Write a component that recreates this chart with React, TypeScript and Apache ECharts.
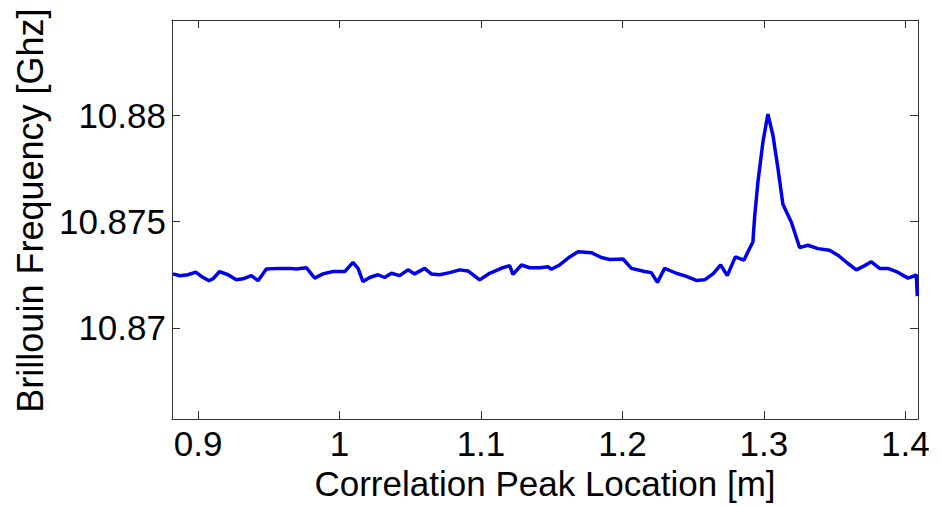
import React, { useEffect, useRef } from "react";
import * as echarts from "echarts";

// Correlation peak location [m]
const xValues = [
  0.8823, 0.8871, 0.8929, 0.8984, 0.9024, 0.9078, 0.9106, 0.9153, 0.9212, 0.9271,
  0.9318, 0.9377, 0.9424, 0.9483, 0.9577, 0.9648, 0.9695, 0.9766, 0.9825, 0.9883,
  0.9954, 1.0037, 1.0095, 1.0131, 1.0166, 1.0213, 1.0272, 1.0319, 1.0367, 1.0425,
  1.0484, 1.0531, 1.0602, 1.0649, 1.0708, 1.0779, 1.0849, 1.0908, 1.0991, 1.1061,
  1.1155, 1.1203, 1.1226, 1.1286, 1.1344, 1.1415, 1.1473, 1.1497, 1.1556, 1.1627,
  1.1686, 1.178, 1.1851, 1.191, 1.2004, 1.2063, 1.2157, 1.2204, 1.2247, 1.2298,
  1.2381, 1.2452, 1.2522, 1.2581, 1.264, 1.2694, 1.2741, 1.2798, 1.2859, 1.2887,
  1.2922, 1.2934, 1.2958, 1.2993, 1.3028, 1.3064, 1.3099, 1.3134, 1.3194, 1.3252,
  1.3311, 1.3382, 1.3464, 1.3523, 1.3594, 1.3653, 1.3712, 1.3759, 1.3818, 1.3876,
  1.3936, 1.4018, 1.4053, 1.4077, 1.4084,
];

// Brillouin frequency [GHz]
const yValues = [
  10.87254, 10.87245, 10.8725, 10.87262, 10.87242, 10.87222, 10.87231, 10.87265, 10.8725, 10.87226,
  10.87231, 10.87246, 10.87222, 10.87277, 10.8728, 10.8728, 10.87277, 10.87283, 10.87234, 10.87254,
  10.87265, 10.87265, 10.87308, 10.8728, 10.87218, 10.87237, 10.8725, 10.87237, 10.87257, 10.87246,
  10.87273, 10.87254, 10.8728, 10.87254, 10.8725, 10.8726, 10.87273, 10.87268, 10.87226, 10.87257,
  10.87283, 10.87293, 10.87252, 10.87296, 10.87283, 10.87283, 10.87288, 10.87276, 10.87296, 10.87334,
  10.87358, 10.87354, 10.87331, 10.87322, 10.87324, 10.8728, 10.87265, 10.8726, 10.87214, 10.8728,
  10.87257, 10.87242, 10.87223, 10.87226, 10.87254, 10.87296, 10.87246, 10.87334, 10.87319, 10.87358,
  10.87404, 10.8752, 10.8769, 10.87876, 10.88007, 10.87906, 10.87752, 10.87582, 10.87497, 10.87378,
  10.87389, 10.87373, 10.87365, 10.87342, 10.87303, 10.87273, 10.87293, 10.87311, 10.8728, 10.8728,
  10.87265, 10.87234, 10.87242, 10.8725, 10.87149,
];

const xTicks = [0.9, 1.0, 1.1, 1.2, 1.3, 1.4];
const yTicks = [10.87, 10.875, 10.88];

const xRange = [0.8816, 1.4089];
const yRange = [10.8657, 10.8845];

const xName = "Correlation Peak Location [m]";
const yName = "Brillouin Frequency [Ghz]";

const FONT = "'Liberation Sans', Arial, sans-serif";
const fmt = (v: number) => String(parseFloat(Number(v).toFixed(4)));

export default function App() {
  const ref = useRef<HTMLDivElement>(null);

  useEffect(() => {
    if (!ref.current) return;
    const chart = echarts.init(ref.current, null, { renderer: "svg" });
    const data = xValues.map((x, i) => [x, yValues[i]]);
    const frameColor = "#333";

    const baseX = (pos: "bottom" | "top", showLabels: boolean) => ({
      type: "value",
      position: pos,
      min: xRange[0],
      max: xRange[1],
      splitLine: { show: false },
      axisLine: { show: true, onZero: false, lineStyle: { color: frameColor, width: 1 } },
      axisTick: {
        show: true,
        inside: true,
        length: 8,
        customValues: xTicks,
        lineStyle: { color: frameColor, width: 1 },
      },
      axisLabel: {
        show: showLabels,
        customValues: xTicks,
        formatter: fmt,
        margin: 7,
        color: "#000",
        fontFamily: FONT,
        fontSize: 35,
      },
    });

    const baseY = (pos: "left" | "right", showLabels: boolean) => ({
      type: "value",
      position: pos,
      min: yRange[0],
      max: yRange[1],
      splitLine: { show: false },
      axisLine: { show: true, onZero: false, lineStyle: { color: frameColor, width: 1 } },
      axisTick: {
        show: true,
        inside: true,
        length: 8,
        customValues: yTicks,
        lineStyle: { color: frameColor, width: 1 },
      },
      axisLabel: {
        show: showLabels,
        customValues: yTicks,
        formatter: fmt,
        margin: 6,
        color: "#000",
        fontFamily: FONT,
        fontSize: 35,
      },
    });

    chart.setOption({
      animation: false,
      backgroundColor: "#fff",
      grid: { left: 172, right: 24, top: 20, bottom: 81 },
      xAxis: [
        {
          ...baseX("bottom", true),
          name: xName,
          nameLocation: "middle",
          nameGap: 29,
          nameTextStyle: { color: "#000", fontFamily: FONT, fontSize: 35 },
        },
        baseX("top", false),
      ],
      yAxis: [
        {
          ...baseY("left", true),
          name: yName,
          nameLocation: "middle",
          nameGap: 120,
          nameTextStyle: { color: "#000", fontFamily: FONT, fontSize: 36, padding: [0, 0, 0, 18] },
        },
        baseY("right", false),
      ],
      series: [
        {
          type: "line",
          xAxisIndex: 0,
          yAxisIndex: 0,
          data,
          showSymbol: false,
          symbol: "none",
          lineStyle: { color: "#0000ee", width: 3.5 },
        },
      ],
    });

    return () => chart.dispose();
  }, []);

  return (
    <div
      ref={ref}
      style={{ position: "fixed", left: 0, top: 0, width: 942, height: 506 }}
    />
  );
}
